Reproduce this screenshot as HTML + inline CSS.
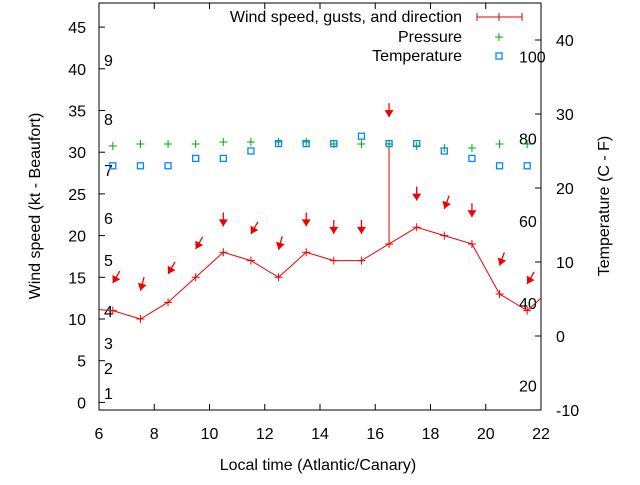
<!DOCTYPE html>
<html><head><meta charset="utf-8"><style>
body{margin:0;background:#fff;}
svg text{font-family:"Liberation Sans",sans-serif;font-size:16px;fill:#000;}
</style></head><body>
<svg id="chart" width="640" height="480" xmlns="http://www.w3.org/2000/svg">
<rect x="99" y="3" width="442" height="407" fill="none" stroke="#000"/>
<g id="axes"></g>
<g id="marks"></g>
<text x="318" y="470" text-anchor="middle">Local time (Atlantic/Canary)</text>
<text transform="translate(40,206) rotate(-90)" text-anchor="middle">Wind speed (kt - Beaufort)</text>
<text transform="translate(609,206) rotate(-90)" text-anchor="middle">Temperature (C - F)</text>
<g>
<text x="462" y="22" text-anchor="end">Wind speed, gusts, and direction</text>
<line x1="477" y1="17" x2="522" y2="17" stroke="#d00"/>
<line x1="477" y1="13" x2="477" y2="21" stroke="#d00"/><line x1="522" y1="13" x2="522" y2="21" stroke="#d00"/><line x1="499" y1="13" x2="499" y2="21" stroke="#d00"/>
<text x="462" y="42" text-anchor="end">Pressure</text>
<path d="M495 37h8M499 33v8" stroke="#0a0"/>
<text x="462" y="61" text-anchor="end">Temperature</text>
<rect x="496" y="53" width="6" height="6" fill="none" stroke="#08f" stroke-width="1.3"/>
</g>
</svg>
<script>
const hours=[6.5,7.5,8.5,9.5,10.5,11.5,12.5,13.5,14.5,15.5,16.5,17.5,18.5,19.5,20.5,21.5];
const wind=[11,10,12,15,18,17,15,18,17,17,19,21,20,19,13,11];
const gust=[null,null,null,null,null,null,null,null,null,null,31,null,null,null,null,null];
const arrowPos=[14.3,13.4,15.4,18.4,21.1,20.2,18.3,21.1,20.2,20.2,34.2,24.2,23.2,22.2,16.4,14.2];
const arrowDir=[30,15,30,30,0,30,15,0,0,0,0,0,20,0,20,30];
const pressure=[1015,1016,1016,1016,1017,1017,1017,1017,1016,1016,1016,1015,1014,1014,1016,1016];
const temperature=[23,23,23,24,24,25,26,26,26,27,26,26,25,24,23,23];
const xTicks=[6,8,10,12,14,16,18,20,22];
const yTicks=[0,5,10,15,20,25,30,35,40,45];
const y2Ticks=[-10,0,10,20,30,40];
const beaufort=[[1,393],[2,368],[3,343],[4,311],[5,260],[6,218],[7,170],[8,119],[9,60]];
const fahr=[20,40,60,80,100];
const NS="http://www.w3.org/2000/svg";
const X=v=>99+(v-6)*442/16;
const Y=v=>402.4-v*8.34;
const Y2=c=>336-c*7.4;
const YP=p=>144-(p-1016)*2;
function mk(t,a,p){const e=document.createElementNS(NS,t);for(const k in a)e.setAttribute(k,a[k]);p.appendChild(e);return e;}
const ax=document.getElementById('axes'),mg=document.getElementById('marks');
xTicks.forEach(v=>{mk('line',{x1:X(v),y1:410,x2:X(v),y2:404,stroke:'#000'},ax);mk('line',{x1:X(v),y1:3,x2:X(v),y2:9,stroke:'#000'},ax);
const t=mk('text',{x:X(v),y:439,'text-anchor':'middle'},ax);t.textContent=v;

});
yTicks.forEach(v=>{mk('line',{x1:99,y1:Y(v),x2:105,y2:Y(v),stroke:'#000'},ax);
const t=mk('text',{x:86,y:Y(v)+6,'text-anchor':'end'},ax);t.textContent=v;

});
y2Ticks.forEach(v=>{mk('line',{x1:535,y1:Y2(v),x2:541,y2:Y2(v),stroke:'#000'},ax);
const t=mk('text',{x:556,y:Y2(v)+6},ax);t.textContent=v;

});
beaufort.forEach(b=>{const t=mk('text',{x:104,y:b[1]+6},ax);t.textContent=b[0];

});
fahr.forEach(f=>{const c=(f-32)*5/9;const t=mk('text',{x:519,y:Y2(c)+6},ax);t.textContent=f;

});
let d='M99 '+(Y(wind[0])-1);
hours.forEach((h,i)=>{d+=' L'+X(h)+' '+Y(wind[i]);});
d+=' L541 '+Y(12.5);
const wl=mk('path',{d:d,fill:'none',stroke:'#e00'},mg);


hours.forEach((h,i)=>{
const p=mk('path',{d:`M${X(h)-4} ${Y(wind[i])}h8M${X(h)} ${Y(wind[i])-4}v8`,stroke:'#e00'},mg);


if(gust[i]!=null){const g=mk('line',{x1:X(h),y1:Y(wind[i]),x2:X(h),y2:Y(gust[i]),stroke:'#e00'},mg);


mk('line',{x1:X(h)-3,y1:Y(gust[i]),x2:X(h)+3,y2:Y(gust[i]),stroke:'#e00'},mg);}
const tx=X(h),ty=Y(arrowPos[i]),a=arrowDir[i]*Math.PI/180;
const L=14,sx=tx+L*Math.sin(a),sy=ty-L*Math.cos(a);
const ux=(tx-sx)/L,uy=(ty-sy)/L;
const bx=tx-ux*7,by=ty-uy*7;
const ar=mk('g',{},mg);


mk('line',{x1:sx,y1:sy,x2:tx,y2:ty,stroke:'#e00','stroke-width':1.3},ar);
mk('path',{d:`M${tx} ${ty}L${bx-uy*4.5} ${by+ux*4.5}L${bx+uy*4.5} ${by-ux*4.5}Z`,fill:'#e00'},ar);
const pp=mk('path',{d:`M${X(h)-4} ${YP(pressure[i])}h8M${X(h)} ${YP(pressure[i])-4}v8`,stroke:'#0a0'},mg);


const tp=mk('rect',{x:X(h)-3,y:Y2(temperature[i])-3,width:6,height:6,fill:'none',stroke:'#08f','stroke-width':1.3},mg);


});
</script>
</body></html>
